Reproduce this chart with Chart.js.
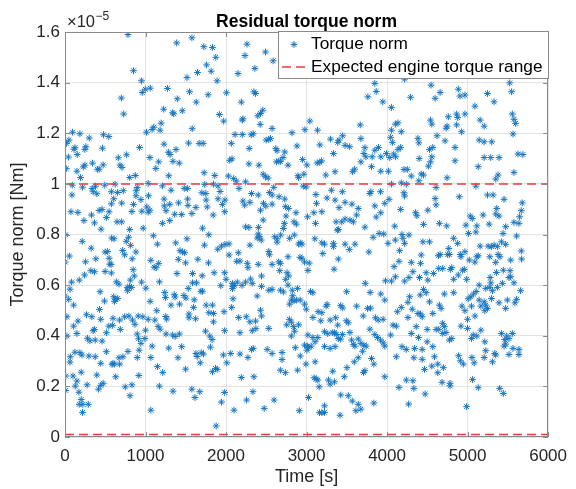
<!DOCTYPE html>
<html>
<head>
<meta charset="utf-8">
<script src="https://cdn.jsdelivr.net/npm/chart.js@4.4.1/dist/chart.umd.min.js"></script>
<style>
html,body{margin:0;padding:0;background:#fff;}
canvas{display:block;}
</style>
</head>
<body>
<canvas id="c" width="576" height="489"></canvas>
<script>
// ---- data (time in s, torque norm in units of 1e-5 Nm) ----
const titleText = 'Residual torque norm';
const xAxisLabel = 'Time [s]';
const yAxisLabel = 'Torque norm [Nm]';
const seriesNames = ['Torque norm', 'Expected engine torque range'];
const xTickValues = [0, 1000, 2000, 3000, 4000, 5000, 6000];
const yTickValues = [0, 0.2, 0.4, 0.6, 0.8, 1.0, 1.2, 1.4, 1.6];
const yExponent = '\u22125';
const rangeHigh = 1.0;
const rangeLow = 0.01;
const torqueSamples = [
[782,1.59],[1387,1.557],[1576,1.577],[1724,1.542],[1831,1.539],[1873,1.50],[851,1.447],[1646,1.44],[1758,1.47],[1815,1.445],
[1889,1.407],[1515,1.42],[951,1.407],[996,1.374],[1058,1.378],[959,1.361],[1272,1.377],[1547,1.364],[1778,1.352],[2005,1.36],
[700,1.339],[1395,1.336],[1630,1.323],[1226,1.295],[1337,1.281],[1350,1.277],[1457,1.289],[729,1.276],[1917,1.274],[1971,1.248],
[1194,1.24],[1103,1.224],[1082,1.215],[1181,1.212],[1580,1.218],[1012,1.204],[94,1.204],[185,1.198],[50,1.173],[20,1.16],
[301,1.181],[478,1.194],[544,1.187],[124,1.143],[111,1.137],[259,1.147],[247,1.136],[465,1.141],[926,1.144],[1230,1.157],
[1379,1.136],[1535,1.161],[1666,1.16],[1716,1.16],[1284,1.125],[1305,1.116],[42,1.106],[152,1.116],[765,1.115],[662,1.103],
[1054,1.104],[1164,1.087],[1341,1.089],[1419,1.082],[247,1.074],[227,1.067],[341,1.082],[474,1.075],[403,1.058],[424,1.058],
[683,1.074],[708,1.065],[16,1.06],[148,1.05],[193,1.025],[803,1.025],[873,1.033],[1288,1.032],[1728,1.044],[1860,1.033],
[2029,1.031],[1128,1.061],[1033,1.002],[90,0.995],[218,0.987],[379,0.991],[494,0.995],[622,0.999],[897,0.986],[1210,0.992],
[1481,0.982],[1523,0.982],[1736,0.998],[1844,0.999],[1901,0.992],[86,0.956],[337,0.982],[349,0.969],[395,0.961],[576,0.969],
[654,0.966],[724,0.973],[885,0.973],[881,0.953],[1037,0.953],[1317,0.975],[1700,0.965],[1749,0.962],[1926,0.97],[605,0.941],
[704,0.924],[943,0.938],[1230,0.94],[1411,0.925],[1523,0.94],[1753,0.936],[1901,0.941],[1987,0.936],[576,0.921],[851,0.919],
[1016,0.909],[1054,0.896],[955,0.892],[1033,0.888],[1234,0.913],[1301,0.919],[1527,0.915],[1626,0.907],[1766,0.909],[1955,0.919],
[74,0.89],[160,0.887],[424,0.895],[461,0.899],[548,0.89],[831,0.891],[1255,0.894],[1362,0.88],[1576,0.883],[1449,0.879],
[1840,0.877],[1984,0.89],[235,0.855],[329,0.877],[366,0.846],[514,0.867],[646,0.85],[704,0.85],[803,0.82],[971,0.825],
[1210,0.844],[1301,0.855],[1708,0.825],[448,0.821],
[1786,0.799],[8,0.799],[214,0.773],[790,0.789],[761,0.773],[1098,0.795],[580,0.786],[609,0.783],[325,0.746],[815,0.757],
[1148,0.762],[1375,0.767],[1515,0.783],[1732,0.758],[1897,0.742],[1943,0.754],[1987,0.761],[54,0.715],[2,0.691],[255,0.692],
[383,0.704],[498,0.731],[530,0.733],[716,0.737],[741,0.72],[881,0.731],[548,0.706],[835,0.704],[556,0.683],[572,0.682],
[1066,0.698],[1164,0.686],[1107,0.671],[1132,0.669],[1428,0.736],[1461,0.731],[1486,0.728],[1407,0.702],[1498,0.688],[1650,0.702],
[1782,0.688],[1983,0.649],[1852,0.649],[321,0.657],[366,0.653],[243,0.64],[498,0.654],[576,0.648],[847,0.661],[861,0.636],
[638,0.613],[670,0.604],[811,0.62],[803,0.595],[827,0.591],[773,0.59],[951,0.612],[1004,0.588],[1173,0.613],[1391,0.646],
[1584,0.646],[1584,0.609],[1634,0.609],[1704,0.637],[1531,0.587],[1935,0.598],[2000,0.623],[82,0.612],[62,0.584],[177,0.62],
[2,0.557],[46,0.544],[107,0.521],[436,0.574],[490,0.537],[605,0.554],[626,0.544],[654,0.547],[614,0.536],[428,0.504],
[778,0.578],[1239,0.571],[1247,0.551],[1358,0.562],[1367,0.553],[1477,0.559],[1502,0.549],[1605,0.542],[1688,0.576],[1708,0.576],
[1423,0.525],[1597,0.512],[1753,0.521],[1831,0.521],[1975,0.495],[1317,0.521],[1140,0.499],[1058,0.536],[24,0.475],[267,0.483],
[333,0.475],[161,0.458],[444,0.465],[596,0.469],[679,0.462],[741,0.475],[794,0.478],[909,0.478],[967,0.475],[1033,0.465],
[1116,0.462],[1251,0.476],[1263,0.466],[1539,0.486],[1539,0.471],[1622,0.467],[1786,0.491],[1844,0.488],[1844,0.455],[107,0.438],
[148,0.409],[366,0.425],[349,0.42],[544,0.438],[514,0.412],[592,0.441],[687,0.425],[839,0.462],[869,0.445],[897,0.407],
[1000,0.422],[992,0.389],[913,0.388],[1156,0.437],[1181,0.426],[1255,0.407],[1337,0.403],[1367,0.397],[1420,0.407],[1745,0.418],
[1798,0.399],[1983,0.42],[24,0.399],[279,0.39],[309,0.38],[375,0.383],[461,0.379],[943,0.37],[1082,0.359],[1288,0.351],
[1449,0.357],[1827,0.385],[1806,0.355],[124,0.335],[66,0.317],[62,0.296],[185,0.333],[210,0.324],[297,0.32],[375,0.317],
[514,0.337],[671,0.313],[720,0.317],[782,0.338],[897,0.314],[921,0.343],[1066,0.314],[1403,0.313],[1626,0.33],[1642,0.318],
[1692,0.333],[1720,0.328],[1680,0.293],[1967,0.324],[2009,0.293],[444,0.291],[584,0.287],[596,0.291],[614,0.288],[679,0.288],
[1148,0.278],[1869,0.271],[1889,0.267],[1831,0.258],[1498,0.268],[1214,0.255],[8,0.241],[99,0.241],[148,0.221],[201,0.256],
[395,0.245],[630,0.238],[917,0.243],[275,0.206],[128,0.201],[444,0.204],[474,0.212],[749,0.198],[831,0.206],[1172,0.201],
[8,0.184],[173,0.177],[416,0.189],[807,0.163],[1341,0.181],[1576,0.189],[1614,0.156],[1674,0.179],[1983,0.176],[1943,0.138],
[201,0.148],[177,0.129],[222,0.129],[289,0.129],[218,0.097],[1066,0.106],[1877,0.044],
[2260,1.552],[2235,1.507],[2490,1.521],[2585,1.486],[2149,1.436],[2358,1.456],[3848,1.397],[3865,1.365],[3762,1.344],[3947,1.324],
[2346,1.364],[2367,1.357],[2190,1.323],[2210,1.257],[2202,1.252],[2457,1.291],[2428,1.278],[2395,1.269],[2424,1.235],[2572,1.219],
[3041,1.248],[2980,1.214],[3136,1.212],[2819,1.202],[3667,1.233],[2112,1.195],[2202,1.195],[2313,1.194],[2338,1.198],[2066,1.16],
[2531,1.176],[2498,1.173],[2552,1.179],[2288,1.14],[2618,1.139],[2634,1.131],[2729,1.126],[2881,1.15],[2708,1.104],[2074,1.099],
[2046,1.093],[2626,1.087],[2655,1.09],[2675,1.089],[2284,1.079],[2408,1.074],[2461,1.038],[2490,1.028],[2523,1.023],[2770,1.074],
[2951,1.096],[3004,1.075],[2893,1.032],[2967,1.038],[3165,1.154],[3297,1.177],[3387,1.164],[3449,1.19],[3404,1.173],[3478,1.152],
[3535,1.147],[3334,1.12],[3132,1.083],[3165,1.085],[3186,1.091],[3354,1.048],[3239,1.035],[3572,1.048],[3597,1.058],[3725,1.143],
[3675,1.179],[3712,1.12],[3737,1.107],[3815,1.107],[3848,1.133],[3893,1.144],[3922,1.107],[3992,1.12],[3675,1.087],[3807,1.068],
[3922,1.05],[2095,1.021],[2128,1.011],[2161,0.982],[2243,1.008],[2996,0.988],[2902,1.025],[2959,0.991],[2210,0.932],[2231,0.916],
[2317,0.962],[2400,0.956],[2297,0.927],[2539,0.966],[2593,0.986],[2572,0.956],[2465,0.923],[2494,0.912],[2572,0.92],[2428,0.896],
[2461,0.857],[2659,0.949],[2729,0.94],[2737,0.91],[2778,0.903],[2869,0.886],[2745,0.873],[2725,0.844],[2844,0.85],[2873,0.841],
[3116,0.958],[3124,0.923],[3255,0.944],[3309,0.975],[3354,0.936],[3404,0.906],[3445,0.969],[3478,0.927],[3564,0.92],[3190,0.89],
[3091,0.886],[3111,0.844],[3013,0.87],[3367,0.85],[3437,0.85],[3478,0.861],[3539,0.857],[3581,0.85],[3622,0.877],[3642,0.903],
[3786,0.962],[3799,0.969],[3918,0.969],[3848,0.913],[3922,0.886],[3972,0.923],[3865,0.869],[2243,0.83],[2284,0.828],[2404,0.828],
[2712,0.824],[3395,0.82],[3725,0.829],
[2400,0.802],[2416,0.791],[2605,0.791],[2634,0.783],[2679,0.798],[2848,0.798],[2922,0.767],[2943,0.762],[2902,0.762],[2790,0.785],
[2387,0.786],[2437,0.778],[2634,0.77],[2037,0.763],[2153,0.728],[2037,0.719],[2297,0.758],[2531,0.733],[2539,0.72],[2770,0.712],
[2655,0.692],[2675,0.686],[2572,0.682],[2918,0.71],[2943,0.706],[2976,0.691],[3033,0.687],[3017,0.658],[3103,0.783],[3190,0.767],
[3223,0.762],[3334,0.765],[3334,0.752],[3202,0.725],[3478,0.762],[3531,0.741],[3601,0.762],[3395,0.703],[3342,0.663],[3774,0.731],
[3827,0.789],[3902,0.804],[3959,0.802],[3383,0.817],[2132,0.694],[2173,0.695],[2264,0.686],[2272,0.669],[2400,0.682],[2441,0.636],
[2667,0.657],[2758,0.649],[2778,0.636],[2741,0.623],[2770,0.6],[2079,0.607],[2103,0.599],[2087,0.594],[2079,0.586],[2140,0.612],
[2198,0.599],[2243,0.612],[2305,0.624],[2326,0.607],[2441,0.595],[2531,0.58],[2572,0.583],[2387,0.557],[2675,0.58],[2712,0.573],
[2823,0.58],[2889,0.587],[3050,0.575],[3079,0.57],[2828,0.558],[2811,0.541],[2844,0.538],[2877,0.541],[2922,0.541],[2790,0.525],
[2976,0.525],[2996,0.505],[2087,0.546],[2070,0.512],[2157,0.472],[2251,0.475],[2297,0.455],[2367,0.458],[2428,0.501],[2441,0.478],
[2371,0.428],[2326,0.42],[2173,0.412],[2531,0.429],[2786,0.465],[2811,0.454],[2753,0.443],[2840,0.436],[2902,0.443],[2852,0.418],
[2811,0.399],[2860,0.353],[3079,0.472],[3144,0.495],[3177,0.459],[3255,0.524],[3243,0.517],[3190,0.491],[3293,0.462],[3362,0.471],
[3387,0.442],[3424,0.519],[3449,0.51],[3498,0.574],[3622,0.517],[3758,0.508],[3795,0.509],[3704,0.478],[3856,0.471],[3889,0.462],
[3951,0.465],[3790,0.571],[3922,0.565],[3972,0.541],[3729,0.607],[3980,0.617],[3494,0.459],[3519,0.451],[3223,0.416],[3264,0.408],
[3325,0.412],[3346,0.412],[3375,0.405],[3395,0.389],[3445,0.405],[3424,0.387],[3539,0.413],[3786,0.426],[3848,0.405],[3881,0.393],
[3918,0.383],[3951,0.372],[3972,0.359],[3017,0.403],[3079,0.393],[3140,0.393],[2976,0.363],[3009,0.359],[3025,0.354],[3058,0.359],
[3107,0.376],[3004,0.343],[3223,0.357],[3293,0.35],[3354,0.357],[3560,0.383],[3581,0.366],[3642,0.387],[3675,0.37],[3712,0.363],
[3696,0.339],[3601,0.359],[3741,0.359],[3593,0.297],[3642,0.313],[3807,0.31],[3836,0.288],[3725,0.262],[3708,0.255],[3502,0.274],
[3325,0.26],[3469,0.238],[3972,0.238],[2058,0.33],[2173,0.328],[2272,0.314],[2317,0.346],[2338,0.35],[2511,0.346],[2572,0.33],
[2696,0.334],[2696,0.306],[2675,0.264],[2737,0.254],[2922,0.32],[2889,0.264],[2992,0.288],[3107,0.297],[2190,0.235],[2346,0.238],
[3095,0.234],[3120,0.229],[3140,0.225],[3272,0.225],[3293,0.209],[3157,0.198],[3346,0.218],[2334,0.179],[2256,0.146],[2597,0.146],
[3025,0.156],[3424,0.166],[3519,0.163],[3568,0.142],[3642,0.129],[3675,0.11],[3613,0.104],[3836,0.134],[2099,0.106],[2474,0.113],
[2910,0.104],[3161,0.096],[3190,0.096],[3223,0.097],[3223,0.123],[3416,0.086],
[5037,1.598],[5185,1.598],
[4218,1.414],[4547,1.39],[4659,1.361],[4885,1.374],[4905,1.347],[4967,1.351],[4597,1.338],[4292,1.342],[5247,1.357],[5329,1.324],
[5523,1.399],[5547,1.364],[4054,1.302],[5091,1.307],[4761,1.265],[4864,1.276],[4877,1.262],[4864,1.233],[4967,1.276],[5156,1.252],
[5206,1.228],[5556,1.276],[5576,1.255],[5597,1.239],[4539,1.252],[4556,1.236],[4733,1.22],[4745,1.228],[4103,1.236],[4136,1.241],
[4054,1.212],[4177,1.206],[4926,1.206],[5564,1.197],[4045,1.184],[4066,1.164],[4383,1.18],[4395,1.162],[4621,1.19],[4720,1.17],
[5144,1.173],[5206,1.166],[5300,1.166],[4136,1.136],[4169,1.144],[4033,1.104],[4082,1.118],[4107,1.107],[4399,1.1],[4568,1.144],
[4527,1.136],[4556,1.107],[4539,1.087],[4514,1.07],[4844,1.144],[4844,1.091],[5206,1.104],[5288,1.104],[5391,1.104],[5132,1.068],
[5626,1.118],[5687,1.116],[4210,1.057],[4251,1.057],[4301,1.031],[4424,1.039],[4453,1.035],[4395,1.012],[4017,1.05],[4745,1.024],
[5350,1.019],[5379,1.035],[5576,1.045],[4054,0.999],[4177,1.004],[4239,0.999],[4609,0.986],[5103,0.991],[4210,0.965],[4218,0.952],
[4025,0.939],[4597,0.942],[4609,0.917],[4897,0.949],[5247,0.956],[5317,0.956],[5453,0.939],[5679,0.925],[5667,0.894],[5362,0.903],
[5350,0.881],[4169,0.899],[4354,0.886],[4370,0.874],[4506,0.896],[5033,0.873],[5058,0.863],[5193,0.877],[5391,0.873],[5646,0.87],
[5268,0.841],[5576,0.848],[5638,0.844],[4095,0.833],[4453,0.84],[4650,0.844],[4741,0.834],[4979,0.837],[5115,0.834],[5473,0.831],
[4185,0.8],[4272,0.798],[4198,0.785],[4103,0.778],[4012,0.765],[4218,0.765],[4445,0.771],[4527,0.771],[4827,0.785],[4877,0.765],
[5012,0.804],[5103,0.81],[5156,0.754],[5255,0.754],[5296,0.752],[5329,0.758],[5370,0.752],[5420,0.771],[5473,0.761],[5440,0.804],
[5609,0.794],[5667,0.735],[5671,0.703],[4766,0.745],[4753,0.721],[4774,0.721],[4659,0.721],[4638,0.716],[4424,0.719],[4156,0.736],
[4910,0.721],[4967,0.732],[4918,0.712],[5021,0.699],[5091,0.691],[5115,0.712],[5132,0.716],[5276,0.712],[5379,0.721],[5403,0.712],
[5350,0.69],[5535,0.699],[4087,0.673],[4148,0.694],[4301,0.69],[4416,0.686],[4321,0.653],[4272,0.63],[4403,0.63],[4486,0.649],
[4576,0.646],[4506,0.62],[4642,0.666],[4691,0.666],[4786,0.662],[4803,0.669],[4827,0.623],[4885,0.64],[4938,0.659],[4959,0.662],
[4988,0.623],[5280,0.63],[5288,0.609],[5358,0.65],[5444,0.659],[5432,0.607],[5527,0.657],[5535,0.633],[5514,0.63],[5576,0.609],
[4054,0.616],[4103,0.633],[4218,0.616],[5144,0.6],[5226,0.587],[5276,0.591],[5309,0.578],[5370,0.591],[5658,0.578],[4453,0.583],
[4486,0.57],[4527,0.534],[4412,0.561],[4280,0.554],[4259,0.532],[4177,0.512],[4128,0.495],[4313,0.505],[4383,0.488],[4416,0.486],
[4436,0.475],[4568,0.488],[4650,0.521],[4671,0.508],[4712,0.565],[4827,0.57],[4930,0.517],[4967,0.499],[5008,0.546],[5041,0.554],
[5049,0.517],[5074,0.565],[5107,0.575],[5144,0.541],[5206,0.534],[5165,0.517],[5226,0.521],[5247,0.508],[5214,0.499],[5296,0.547],
[5391,0.53],[5473,0.508],[5494,0.541],[5609,0.544],[5588,0.53],[4074,0.442],[4115,0.438],[4045,0.403],[4259,0.472],[4362,0.436],
[4301,0.409],[4391,0.393],[4498,0.425],[4498,0.376],[4568,0.357],[4691,0.449],[4712,0.436],[4733,0.413],[4691,0.409],[4609,0.425],
[4642,0.425],[4774,0.383],[4803,0.389],[4918,0.438],[5000,0.429],[5000,0.465],[5091,0.478],[5165,0.422],[5070,0.403],[5049,0.389],
[5115,0.399],[5214,0.376],[5226,0.341],[5420,0.409],[5486,0.399],[5461,0.385],[5473,0.367],[5453,0.359],[5556,0.409],[5514,0.389],
[5564,0.35],[5638,0.346],[5638,0.326],[5514,0.326],[5337,0.33],[5350,0.324],[5309,0.297],[5206,0.314],[5054,0.314],[5082,0.293],
[4889,0.321],[4910,0.301],[4947,0.288],[4185,0.357],[4239,0.346],[4342,0.35],[4436,0.346],[4115,0.317],[4333,0.313],[4436,0.307],
[4465,0.267],[4556,0.28],[4589,0.317],[4630,0.288],[4630,0.254],[4700,0.274],[4683,0.216],[4782,0.212],[4782,0.202],[5062,0.227],
[5132,0.195],[5399,0.192],[5444,0.172],[4148,0.196],[4239,0.225],[4321,0.222],[4333,0.192],[4473,0.17],[4268,0.13],[4988,0.12]
];

// ---- styling ----
const FONT = '"Liberation Sans", Arial, Helvetica, sans-serif';
const TEXT = '#262626';
const AXIS = '#8a8a8a';
const GRID = '#e3e3e3';
const BLUE = '#1a76c0';
const RED = '#ef3a3a';

const soften = {
  id: 'soften',
  beforeDatasetDraw(chart, args) {
    if (args.index === 0) { chart.ctx.save(); chart.ctx.filter = 'blur(0.3px)'; }
  },
  afterDatasetDraw(chart, args) {
    if (args.index === 0) { chart.ctx.restore(); }
  }
};

const frame = {
  id: 'frame',
  afterDraw(chart) {
    const {ctx, chartArea: a, scales: {x, y}} = chart;
    ctx.save();
    // box
    ctx.strokeStyle = AXIS; ctx.lineWidth = 1;
    ctx.strokeRect(Math.round(a.left) + 0.5, Math.round(a.top) + 0.5,
      Math.round(a.right - a.left) - 1, Math.round(a.bottom - a.top) - 1);
    // inward tick marks
    ctx.beginPath();
    xTickValues.forEach(v => {
      const px = Math.round(x.getPixelForValue(v)) + 0.5;
      ctx.moveTo(px, a.bottom); ctx.lineTo(px, a.bottom - 5);
      ctx.moveTo(px, a.top); ctx.lineTo(px, a.top + 5);
    });
    yTickValues.forEach(v => {
      const py = Math.round(y.getPixelForValue(v)) + 0.5;
      ctx.moveTo(a.left, py); ctx.lineTo(a.left + 5, py);
      ctx.moveTo(a.right, py); ctx.lineTo(a.right - 5, py);
    });
    ctx.stroke();
    // title
    ctx.fillStyle = '#000';
    ctx.font = 'bold 17.5px ' + FONT;
    ctx.textAlign = 'center'; ctx.textBaseline = 'alphabetic';
    ctx.fillText(titleText, (a.left + a.right) / 2, 26.5);
    // exponent
    ctx.fillStyle = TEXT;
    ctx.textAlign = 'left';
    ctx.font = '16.5px ' + FONT;
    ctx.fillText('\u00d710', a.left + 2, 27);
    const w = ctx.measureText('\u00d710').width;
    ctx.font = '12px ' + FONT;
    ctx.fillText(yExponent, a.left + 2 + w + 0.5, 20);
    // legend
    const L = 278.5, T = 31.5, R = 548.5, B = 78.5;
    ctx.fillStyle = '#fff';
    ctx.fillRect(L, T, R - L, B - T);
    ctx.strokeStyle = AXIS; ctx.lineWidth = 1;
    ctx.strokeRect(L, T, R - L, B - T);
    // marker
    const mx = 294, my = 44.5, r = 3.4;
    ctx.save();
    ctx.filter = 'blur(0.3px)';
    ctx.strokeStyle = BLUE; ctx.lineWidth = 1;
    ctx.beginPath();
    ctx.moveTo(mx - r, my); ctx.lineTo(mx + r, my);
    ctx.moveTo(mx, my - r); ctx.lineTo(mx, my + r);
    const d = r * Math.SQRT1_2;
    ctx.moveTo(mx - d, my - d); ctx.lineTo(mx + d, my + d);
    ctx.moveTo(mx - d, my + d); ctx.lineTo(mx + d, my - d);
    ctx.stroke();
    ctx.restore();
    // dashed sample
    ctx.strokeStyle = RED; ctx.lineWidth = 1.5;
    ctx.setLineDash([9, 5]);
    ctx.beginPath(); ctx.moveTo(282, 67); ctx.lineTo(305, 67); ctx.stroke();
    ctx.setLineDash([]);
    ctx.fillStyle = '#000';
    ctx.font = '17.3px ' + FONT;
    ctx.textBaseline = 'middle';
    ctx.fillText(seriesNames[0], 311, 44.5);
    ctx.fillText(seriesNames[1], 311, 67);
    ctx.restore();
  }
};

const tickFmt = v => String(Math.round(v * 10) / 10);

new Chart(document.getElementById('c').getContext('2d'), {
  type: 'scatter',
  data: {
    datasets: [
      {
        label: seriesNames[0],
        data: torqueSamples.map(([t, v]) => ({x: t, y: v})),
        pointStyle: 'star', pointRadius: 3.4, borderWidth: 1,
        borderColor: BLUE, backgroundColor: BLUE, showLine: false, order: 2
      },
      {
        label: seriesNames[1],
        data: [{x: xTickValues[0], y: rangeHigh}, {x: xTickValues[xTickValues.length - 1], y: rangeHigh}],
        showLine: true, borderColor: RED, borderWidth: 1.5, borderDash: [9, 5],
        pointRadius: 0, order: 1
      },
      {
        label: seriesNames[1] + ' (low)',
        data: [{x: xTickValues[0], y: rangeLow}, {x: xTickValues[xTickValues.length - 1], y: rangeLow}],
        showLine: true, borderColor: RED, borderWidth: 1.5, borderDash: [9, 5],
        pointRadius: 0, order: 1
      }
    ]
  },
  options: {
    responsive: false, animation: false, devicePixelRatio: 1,
    layout: {padding: {left: 0, right: 25, top: 32, bottom: 0}},
    plugins: {legend: {display: false}, tooltip: {enabled: false}, title: {display: false}},
    scales: {
      x: {
        type: 'linear', min: 0, max: 6000,
        afterBuildTicks: s => { s.ticks = xTickValues.map(v => ({value: v})); },
        afterFit: s => { s.height = 52; },
        ticks: {font: {family: FONT, size: 17}, color: TEXT, padding: 9, maxRotation: 0, callback: v => String(v)},
        grid: {color: GRID, drawTicks: false},
        border: {display: false},
        title: {display: true, text: xAxisLabel, color: TEXT, font: {family: FONT, size: 18}, padding: {top: 0, bottom: 1}}
      },
      y: {
        type: 'linear', min: 0, max: 1.6,
        afterBuildTicks: s => { s.ticks = yTickValues.map(v => ({value: v})); },
        afterFit: s => { s.width = 65; },
        ticks: {font: {family: FONT, size: 17}, color: TEXT, padding: 5, callback: tickFmt},
        grid: {color: GRID, drawTicks: false},
        border: {display: false},
        title: {display: true, text: yAxisLabel, color: TEXT, font: {family: FONT, size: 18}, padding: {top: 7, bottom: 0}}
      }
    }
  },
  plugins: [soften, frame]
});
</script>
</body>
</html>
